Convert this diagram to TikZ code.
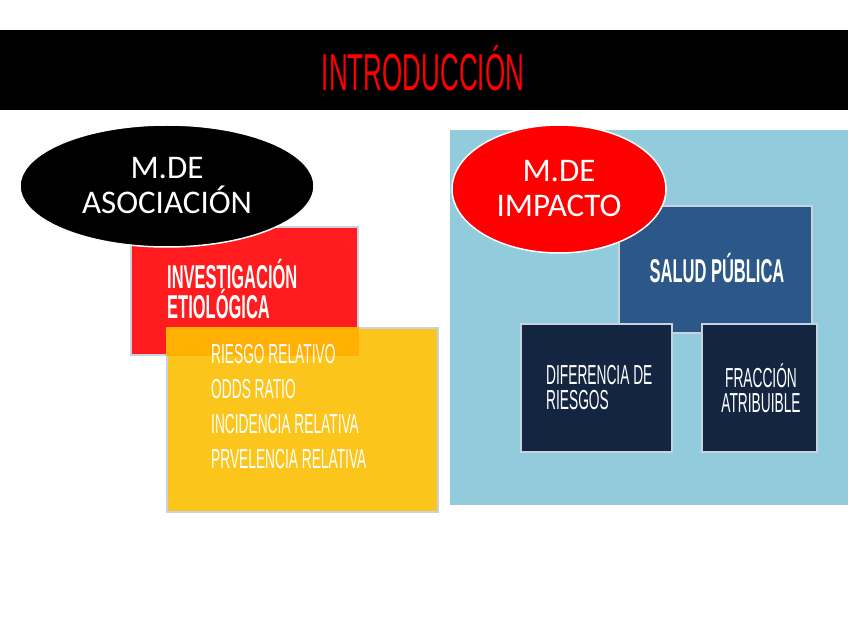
\documentclass[tikz,border=0pt]{standalone}
\usepackage{fontspec}
\setmainfont{Carlito}
\newfontfamily\condfont[FakeStretch=0.5]{Liberation Sans}
\usetikzlibrary{shapes.geometric}
\definecolor{bandred}{RGB}{255,0,0}
\definecolor{boxred}{RGB}{255,27,30}
\definecolor{boxyellow}{RGB}{252,197,27}
\definecolor{mixorange}{RGB}{255,176,2}
\definecolor{panelblue}{RGB}{146,203,220}
\definecolor{saludblue}{RGB}{43,87,137}
\definecolor{darknavy}{RGB}{19,37,65}
\definecolor{edgegray}{RGB}{200,210,225}
\tikzset{
  blob/.style={ellipse, draw=white, line width=1.5pt, inner sep=0pt, text=white,
    align=center, font=\fontsize{33}{35}\selectfont},
  card/.style={rectangle, draw=edgegray, line width=1.2pt, inner sep=0pt},
  cardtext/.style={text=white, inner sep=0pt, align=left},
}
\def\bigcond{\condfont\bfseries\fontsize{33}{29}\selectfont}
\def\smallcond{\condfont\fontsize{27.5}{25}\selectfont}

\begin{document}
\begin{tikzpicture}[x=1pt,y=-1pt]
  \useasboundingbox (0,0) rectangle (848,636);
  \fill[white] (0,0) rectangle (848,636);
  % title band
  \fill[black] (0,30) rectangle (848,110);
  \node (title) at (423,68) {\condfont\fontsize{52}{52}\selectfont\color{bandred}INTRODUCCIÓN};

  % left side
  \node[card, fill=boxred, minimum width=227pt, minimum height=128pt] (etio) at (244.5,291) {};
  \node[blob, fill=black, minimum width=294pt, minimum height=122pt] (asoc) at (167,186) {M.DE\\ASOCIACIÓN};
  \node[cardtext, anchor=west, font=\bigcond] (etiotext) at (167,289) {INVESTIGACIÓN\\ETIOLÓGICA};
  \node[card, fill=boxyellow, minimum width=271pt, minimum height=184pt] (medidas) at (302.5,420) {};
  \fill[mixorange] (medidas.north west) rectangle (etio.south east);
  \node[cardtext, anchor=north west, font=\smallcond, text depth=0pt] (lista) at (211,344)
    {RIESGO RELATIVO\\[10pt]ODDS RATIO\\[10pt]INCIDENCIA RELATIVA\\[10pt]PRVELENCIA RELATIVA};

  % right side
  \fill[panelblue] (450,130) rectangle (848,505);
  \node[card, fill=saludblue, minimum width=193pt, minimum height=127pt] (salud) at (715.5,269.5) {};
  \node[cardtext, font=\bigcond] (saludtext) at (717,268) {SALUD PÚBLICA};
  \node[blob, fill=bandred, minimum width=214pt, minimum height=128pt] (impacto) at (559,189) {M.DE\\IMPACTO};
  \node[card, fill=darknavy, minimum width=151pt, minimum height=128pt] (difer) at (596.5,388) {};
  \node[cardtext, anchor=west, font=\smallcond] (difertext) at (546,388) {DIFERENCIA DE\\RIESGOS};
  \node[card, fill=darknavy, minimum width=115pt, minimum height=128pt] (fracc) at (759.5,388) {};
  \node[cardtext, align=center, font=\smallcond] (fracctext) at (761,388) {FRACCIÓN\\ATRIBUIBLE};
\end{tikzpicture}
\end{document}
